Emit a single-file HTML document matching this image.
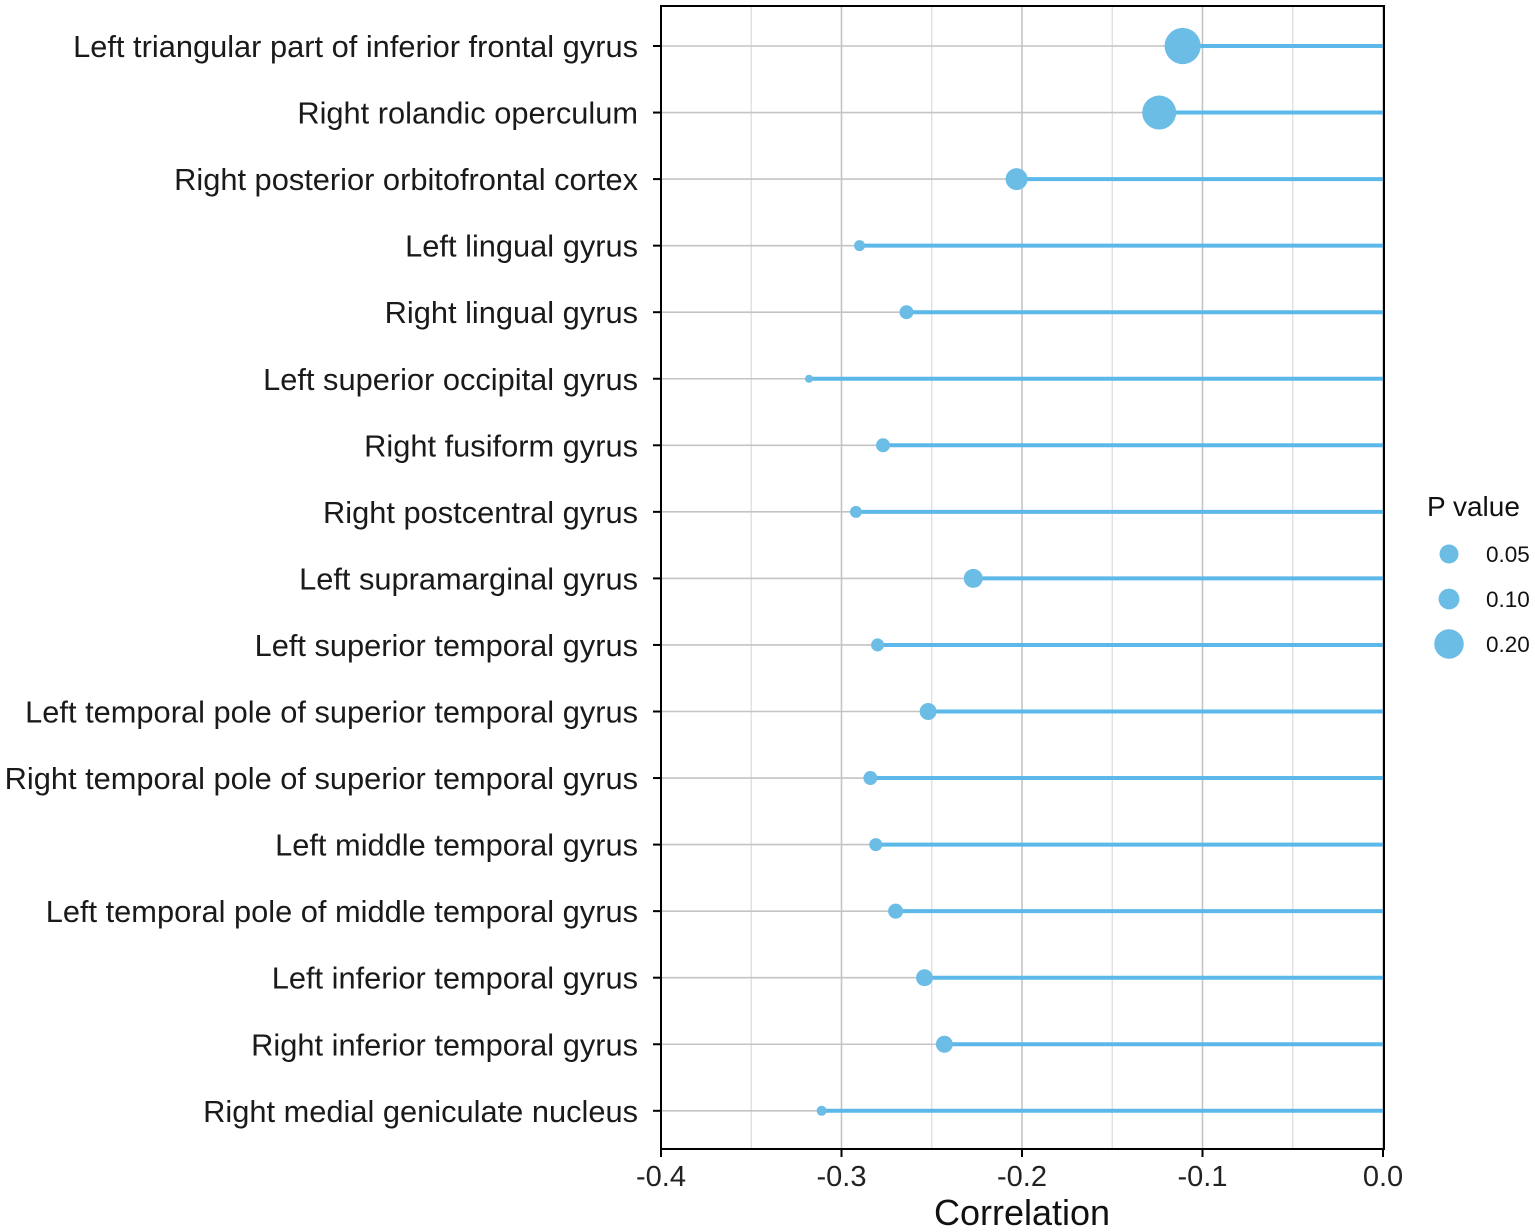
<!DOCTYPE html>
<html><head><meta charset="utf-8"><style>
body{margin:0;background:#fff;}
svg{display:block;font-family:"Liberation Sans",Arial,sans-serif;}
</style></head><body>
<svg id="chart" width="1535" height="1232"></svg>
<script>
const labels=["Left triangular part of inferior frontal gyrus","Right rolandic operculum","Right posterior orbitofrontal cortex","Left lingual gyrus","Right lingual gyrus","Left superior occipital gyrus","Right fusiform gyrus","Right postcentral gyrus","Left supramarginal gyrus","Left superior temporal gyrus","Left temporal pole of superior temporal gyrus","Right temporal pole of superior temporal gyrus","Left middle temporal gyrus","Left temporal pole of middle temporal gyrus","Left inferior temporal gyrus","Right inferior temporal gyrus","Right medial geniculate nucleus"];
const corr=[-0.111,-0.124,-0.203,-0.290,-0.264,-0.318,-0.277,-0.292,-0.227,-0.280,-0.252,-0.284,-0.281,-0.270,-0.254,-0.243,-0.311];
const pvals=[0.30,0.265,0.111,0.028,0.045,0.015,0.045,0.033,0.083,0.039,0.066,0.045,0.039,0.052,0.066,0.066,0.023];
const xTicks=[-0.4,-0.3,-0.2,-0.1,0.0];
const xMinor=[-0.35,-0.25,-0.15,-0.05];
const legendVals=[0.05,0.10,0.20];

const NS="http://www.w3.org/2000/svg";
const svg=document.getElementById('chart');
const L=661,R=1384,T=6,B=1149;
const x=v=>L+(v+0.4)/0.4*(1383-L);
const y=i=>46+i*66.55;
const rad=p=>33*Math.sqrt(p);
const col="#5bb8e8";
function el(t,a,parent){const e=document.createElementNS(NS,t);for(const k in a)e.setAttribute(k,a[k]);(parent||svg).appendChild(e);return e;}

xMinor.forEach(v=>{const g=el('line',{x1:x(v),x2:x(v),y1:T,y2:B,stroke:'#dcdcdc','stroke-width':1.2});

});
xTicks.forEach(v=>{const g=el('line',{x1:x(v),x2:x(v),y1:T,y2:B,stroke:'#c4c4c4','stroke-width':1.6});

});
labels.forEach((lab,i)=>{
 const g=el('line',{x1:L,x2:R,y1:y(i),y2:y(i),stroke:'#c4c4c4','stroke-width':1.6});
 
 
 const s=el('line',{x1:x(corr[i]),x2:x(0),y1:y(i),y2:y(i),stroke:col,'stroke-width':4});
 
 
 const c=el('circle',{cx:x(corr[i]),cy:y(i),r:rad(pvals[i]),fill:'#6bbde6'});
 
 
 const tk=el('line',{x1:653,x2:L,y1:y(i),y2:y(i),stroke:'#000','stroke-width':2});
 
 
 const t=el('text',{x:638,y:y(i)+11,'text-anchor':'end','font-size':30.8,fill:'#1a1a1a'});
 t.textContent=lab;
 
 
});
const frame=el('rect',{x:L,y:T,width:R-L,height:B-T,fill:'none',stroke:'#000','stroke-width':2});


xTicks.forEach(v=>{
 const tk=el('line',{x1:x(v),x2:x(v),y1:B,y2:B+8,stroke:'#000','stroke-width':2});
 
 
 const t=el('text',{x:x(v),y:1186,'text-anchor':'middle','font-size':29,fill:'#222'});
 t.textContent=v.toFixed(1);
 
 
});
const xt=el('text',{x:1022,y:1225,'text-anchor':'middle','font-size':36,fill:'#111'});
xt.textContent='Correlation';


const lt=el('text',{x:1427,y:516,'font-size':28,fill:'#111'});
lt.textContent='P value';


legendVals.forEach((p,i)=>{
 const cy=554+i*45;
 const c=el('circle',{cx:1449,cy:cy,r:Math.max(rad(p),9.5),fill:'#6bbde6'});
 
 
 const t=el('text',{x:1486,y:cy+8,'font-size':22.5,fill:'#111'});
 t.textContent=p.toFixed(2);
 
 
});
</script>
</body></html>
